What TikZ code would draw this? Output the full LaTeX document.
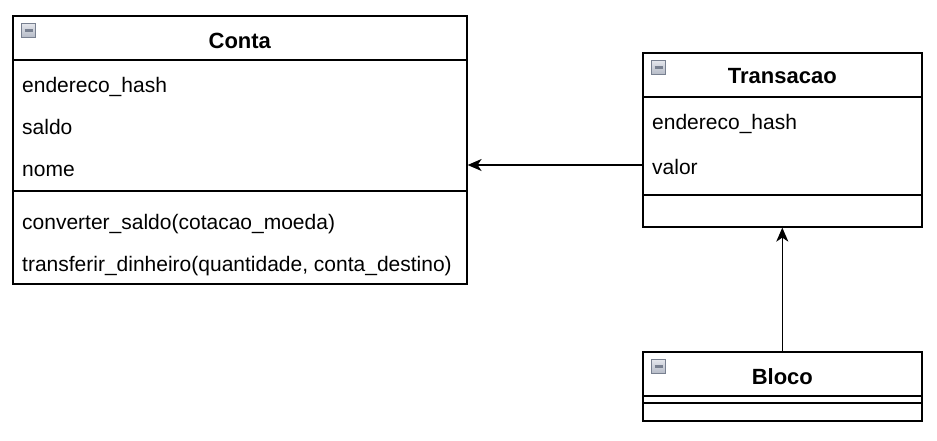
\documentclass[tikz,border=0pt]{standalone}
\usepackage{fontspec}
\setmainfont{Liberation Sans}
\usetikzlibrary{positioning,arrows.meta}
\definecolor{iconFill}{RGB}{180,186,198}
\definecolor{iconTop}{RGB}{228,230,236}
\definecolor{iconEdge}{RGB}{120,128,144}

\tikzset{
  classbox/.style={draw, line width=1.6pt, anchor=north west, inner sep=0pt},
  classname/.style={font=\fontsize{22}{26}\selectfont\bfseries, inner sep=0pt},
  member/.style={anchor=base west, inner sep=0pt, font=\fontsize{21}{25}\selectfont},
  sepline/.style={line width=1.6pt},
  collapse/.style={anchor=north west, minimum size=14pt, inner sep=0pt,
    draw=iconEdge, line width=1.2pt, top color=iconTop, bottom color=iconFill,
    path picture={\draw[line width=2.4pt]
      ([xshift=3pt]path picture bounding box.west) --
      ([xshift=-3pt]path picture bounding box.east);}},
  assoc/.style={-{Stealth[length=14pt,width=12pt,inset=4pt]}, line width=1.6pt},
}

\begin{document}
\begin{tikzpicture}[x=1pt,y=-1pt]
  \useasboundingbox (0,0) rectangle (937,440);

  % class Conta
  \node[classbox, minimum width=454pt, minimum height=268pt] (conta) at (12,15) {};
  \node[collapse] (contaIcon) at ([shift={(9pt,-8pt)}]conta.north west) {};
  \node[classname] (contaTitle) at ([yshift=-26pt]conta.north) {Conta};
  \draw[sepline] ([yshift=-45pt]conta.north west) -- ([yshift=-45pt]conta.north east);
  \node[member] (contaHash) at (22,92) {endereco\_hash};
  \node[member] (contaSaldo) at (22,134) {saldo};
  \node[member] (contaNome) at (22,176) {nome};
  \draw[sepline] ([yshift=-176pt]conta.north west) -- ([yshift=-176pt]conta.north east);
  \node[member] (contaConv) at (22,229) {converter\_saldo(cotacao\_moeda)};
  \node[member] (contaTransf) at (22,271) {transferir\_dinheiro(quantidade, conta\_destino)};

  % class Transacao
  \node[classbox, minimum width=279pt, minimum height=174pt] (transacao) at (642,52) {};
  \node[collapse] (transacaoIcon) at ([shift={(9pt,-8pt)}]transacao.north west) {};
  \node[classname] (transacaoTitle) at ([yshift=-24pt]transacao.north) {Transacao};
  \draw[sepline] ([yshift=-45pt]transacao.north west) -- ([yshift=-45pt]transacao.north east);
  \node[member] (transacaoHash) at (652,129) {endereco\_hash};
  \node[member] (transacaoValor) at (652,174) {valor};
  \draw[sepline] ([yshift=-143pt]transacao.north west) -- ([yshift=-143pt]transacao.north east);

  % class Bloco
  \node[classbox, minimum width=279pt, minimum height=69pt] (bloco) at (642,351) {};
  \node[collapse] (blocoIcon) at ([shift={(9pt,-8pt)}]bloco.north west) {};
  \node[classname] (blocoTitle) at ([yshift=-26pt]bloco.north) {Bloco};
  \draw[sepline] ([yshift=-45pt]bloco.north west) -- ([yshift=-45pt]bloco.north east);
  \draw[sepline] ([yshift=-52pt]bloco.north west) -- ([yshift=-52pt]bloco.north east);

  % associations
  \draw[assoc] ([yshift=9pt]transacaoValor.base -| transacao.west) -- ([yshift=9pt]transacaoValor.base -| conta.east);
  \draw[assoc] (bloco.north) -- (transacao.south);
\end{tikzpicture}
\end{document}
